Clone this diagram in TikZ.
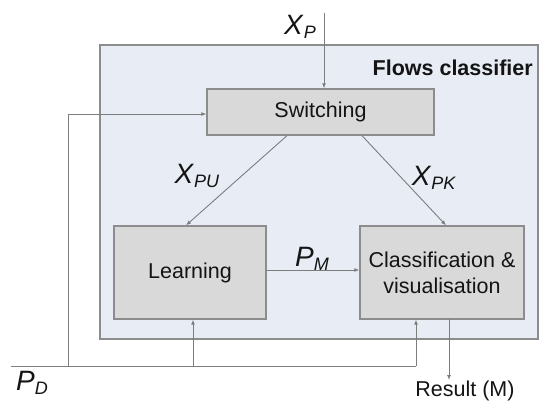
\documentclass[tikz,border=0pt]{standalone}
\usepackage{fontspec}
\setmainfont{Liberation Sans}
\usetikzlibrary{arrows.meta,calc}
\definecolor{outerfill}{RGB}{232,237,245}
\definecolor{boxfill}{RGB}{217,217,217}
\definecolor{edgegray}{RGB}{140,140,140}
\definecolor{linegray}{RGB}{125,125,125}
\definecolor{txt}{RGB}{20,20,20}
\newcommand\mlab[2]{\textit{#1}\raisebox{-0.12em}{\fontsize{18}{18}\selectfont\textit{#2}}}
\tikzset{
  outerbox/.style={draw=edgegray, line width=1.2pt, fill=outerfill, inner sep=0pt},
  blockbox/.style={draw=edgegray, line width=1.3pt, fill=boxfill, inner sep=0pt, align=center,
    font=\fontsize{21.5}{26}\selectfont, text=txt},
  conn/.style={draw=linegray, line width=0.9pt},
  arr/.style={conn, -{Latex[length=5pt,width=4pt]}},
  mathlabel/.style={font=\fontsize{28}{30}\selectfont, text=txt, inner sep=0pt},
  plainlabel/.style={font=\fontsize{21.5}{26}\selectfont, text=txt, inner sep=0pt},
}
\begin{document}
\begin{tikzpicture}[x=1pt,y=-1pt]
\useasboundingbox (0,0) rectangle (550,410);
\node[outerbox, minimum width=438pt, minimum height=294pt] (outer) at (319,192) {};
\node[anchor=east, font=\bfseries\fontsize{21.5}{26}\selectfont, text=txt, inner sep=0pt] (title) at (533,68) {Flows classifier};
\node[blockbox, minimum width=227pt, minimum height=46pt] (sw) at (320.5,112) {Switching};
\node[blockbox, minimum width=152pt, minimum height=93pt] (learn) at (190,272.5) {Learning};
\node[blockbox, minimum width=164pt, minimum height=93pt] (cls) at (442,272.5) {Classification \&\\visualisation};
\node[mathlabel] (xp) at (300,27) {\mlab{X}{P}};
\node[mathlabel] (xpu) at (197,176) {\mlab{X}{PU}};
\node[mathlabel] (xpk) at (434,178) {\mlab{X}{PK}};
\node[mathlabel] (pm) at (312,259) {\mlab{P}{M}};
\node[mathlabel] (pd) at (32,383) {\mlab{P}{D}};
\node[plainlabel] (res) at (465,391) {Result (M)};
\coordinate (xpin) at (324,13);
\coordinate (pdL) at (11,366);
\coordinate (pdF) at (68,366);
\coordinate (pdA) at (193,366);
\coordinate (pdR) at (416,366);
\coordinate (resS) at (449,319);
\coordinate (resE) at (449,380);
% connectors
\draw[arr] (xpin) -- (xpin |- sw.north);
\draw[arr] ([xshift=-33.5pt]sw.south) -- ([xshift=-4pt]learn.north);
\draw[arr] ([xshift=41.5pt]sw.south) -- ([xshift=4pt]cls.north);
\draw[arr] ([yshift=2.5pt]learn.east) -- ([yshift=2.5pt]cls.west);
\draw[conn] (pdL) -- (pdR);
\draw[arr] (pdF) |- ([yshift=-2pt]sw.west);
\draw[arr] (pdA) -- (pdA |- learn.south);
\draw[arr] (pdR) -- (pdR |- cls.south);
\draw[arr] (resS) -- (resE);
\end{tikzpicture}
\end{document}
